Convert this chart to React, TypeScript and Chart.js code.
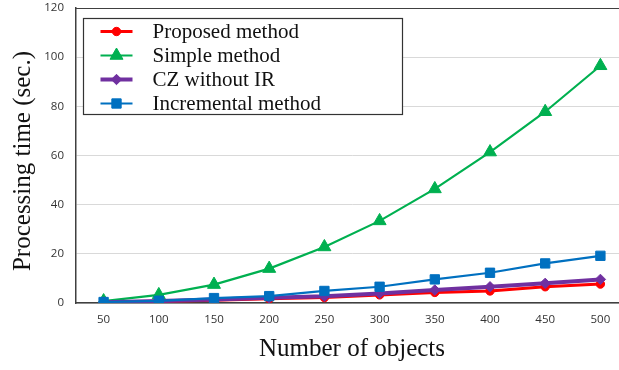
import React, { useEffect, useRef } from "react";
import { Chart, registerables } from "chart.js";
import { drawPoint } from "chart.js/helpers";

Chart.register(...registerables);

const objectCounts = ["50", "100", "150", "200", "250", "300", "350", "400", "450", "500"];
const proposedMethod = [0.2, 0.6, 1.1, 1.7, 2.2, 3.3, 4.3, 4.9, 6.6, 7.7];
const simpleMethod = [0.8, 3.3, 7.5, 14.0, 22.8, 33.4, 46.4, 61.4, 77.8, 96.5];
const czWithoutIR = [0.3, 0.8, 1.4, 2.1, 2.7, 3.9, 5.3, 6.6, 8.0, 9.6];
const incrementalMethod = [0.4, 0.9, 2.0, 2.8, 4.9, 6.6, 9.6, 12.3, 16.1, 19.2];
const yTicks = [0, 20, 40, 60, 80, 100, 120];

const SERIF = "'Liberation Serif', 'Times New Roman', serif";
const SANS = "'Open Sans', 'Noto Sans', sans-serif";
const AXIS_DARK = "#404040";

// Boxed legend in the upper-left corner of the plot plus the two axis titles.
const decorations = {
  id: "decorations",
  afterDraw(chart: any) {
    const { ctx, chartArea } = chart;
    ctx.save();

    // top frame line
    ctx.strokeStyle = AXIS_DARK;
    ctx.lineWidth = 1.2;
    ctx.beginPath();
    ctx.moveTo(chartArea.left, chartArea.top + 0.5);
    ctx.lineTo(chartArea.right, chartArea.top + 0.5);
    ctx.stroke();

    // legend box
    const bx = chartArea.left + 7.5;
    const by = chartArea.top + 10.5;
    const bw = 319;
    const bh = 96;
    ctx.fillStyle = "#ffffff";
    ctx.fillRect(bx, by, bw, bh);
    ctx.strokeStyle = "#333333";
    ctx.lineWidth = 1.2;
    ctx.strokeRect(bx, by, bw, bh);

    const legendOrder = [0, 1, 2, 3];
    legendOrder.forEach((di, row) => {
      const ds = chart.data.datasets[di];
      const cy = by + 13 + row * 24;
      const x0 = bx + 17;
      const x1 = bx + 49;
      ctx.strokeStyle = ds.borderColor;
      ctx.lineWidth = ds.borderWidth;
      ctx.beginPath();
      ctx.moveTo(x0, cy);
      ctx.lineTo(x1, cy);
      ctx.stroke();
      ctx.fillStyle = ds.pointBackgroundColor;
      ctx.strokeStyle = ds.pointBorderColor;
      ctx.lineWidth = 1;
      drawPoint(ctx, { pointStyle: ds.pointStyle, radius: ds.pointRadius, rotation: 0, borderWidth: 1 }, (x0 + x1) / 2, cy);
      ctx.fillStyle = "#111111";
      ctx.font = `21px ${SERIF}`;
      ctx.textAlign = "left";
      ctx.textBaseline = "middle";
      ctx.fillText(ds.label, bx + 69, cy + 1);
    });

    // axis titles
    ctx.fillStyle = "#111111";
    ctx.font = `25px ${SERIF}`;
    ctx.textAlign = "center";
    ctx.textBaseline = "alphabetic";
    ctx.fillText("Number of objects", (chartArea.left + chartArea.right) / 2, 356);

    ctx.save();
    ctx.translate(30, 161);
    ctx.rotate(-Math.PI / 2);
    ctx.fillText("Processing time (sec.)", 0, 0);
    ctx.restore();

    ctx.restore();
  },
};

function series(label: string, data: number[], color: string, style: string, radius: number, width: number, order: number) {
  return {
    label,
    data,
    borderColor: color,
    backgroundColor: color,
    pointBackgroundColor: color,
    pointBorderColor: color,
    pointBorderWidth: 1,
    pointStyle: style,
    pointRadius: radius,
    borderWidth: width,
    tension: 0,
    order,
  };
}

export default function App() {
  const canvasRef = useRef<HTMLCanvasElement | null>(null);

  useEffect(() => {
    const canvas = canvasRef.current;
    if (!canvas) return;
    const chart = new Chart(canvas, {
      type: "line",
      data: {
        labels: objectCounts,
        datasets: [
          series("Proposed method", proposedMethod, "#ff0000", "circle", 4.2, 3, 3),
          series("Simple method", simpleMethod, "#00b050", "triangle", 7.5, 2.2, 4),
          series("CZ without IR", czWithoutIR, "#7030a0", "rectRot", 5.2, 4, 2),
          series("Incremental method", incrementalMethod, "#0070c0", "rect", 6.6, 2.2, 1),
        ] as any,
      },
      options: {
        responsive: false,
        animation: false,
        devicePixelRatio: 1,
        layout: { autoPadding: false, padding: { top: 8, left: 0, right: 0, bottom: 0 } },
        plugins: {
          legend: { display: false },
          tooltip: { enabled: false },
        },
        scales: {
          x: {
            offset: true,
            grid: { display: false, drawTicks: false },
            border: { display: true, color: AXIS_DARK, width: 1.5 },
            ticks: {
              padding: 10,
              color: "#333333",
              font: { family: SANS, size: 11.5 },
              maxRotation: 0,
              autoSkip: false,
            },
            afterFit(scale: any) {
              scale.height = 67;
              scale.paddingLeft = 0;
              scale.paddingRight = 0;
            },
          },
          y: {
            min: 0,
            max: 120,
            afterBuildTicks(scale: any) {
              scale.ticks = yTicks.map((v) => ({ value: v }));
            },
            grid: { color: "#d9d9d9", lineWidth: 1, drawTicks: false },
            border: { display: true, color: AXIS_DARK, width: 1.5 },
            ticks: {
              padding: 12,
              color: "#333333",
              font: { family: SANS, size: 11.5 },
            },
            afterFit(scale: any) {
              scale.width = 76;
              scale.paddingTop = 0;
              scale.paddingBottom = 0;
            },
          },
        },
      },
      plugins: [decorations],
    });
    return () => chart.destroy();
  }, []);

  return (
    <div style={{ position: "fixed", left: 0, top: 0, width: 619, height: 370, overflow: "hidden", background: "#ffffff" }}>
      <canvas ref={canvasRef} width={628} height={370} style={{ display: "block", width: 628, height: 370 }} />
    </div>
  );
}
